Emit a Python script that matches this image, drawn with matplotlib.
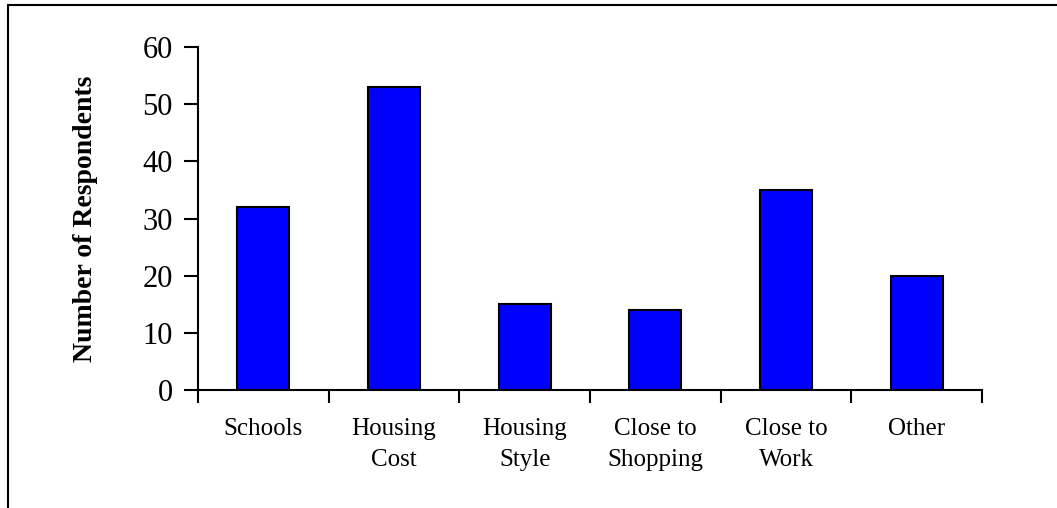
import matplotlib
matplotlib.use("Agg")
import matplotlib.pyplot as plt
from matplotlib.patches import Rectangle
import numpy as np

plt.rcParams['font.family'] = ['Liberation Serif', 'DejaVu Serif']

categories = ["Schools", "Housing\nCost", "Housing\nStyle", "Close to\nShopping", "Close to\nWork", "Other"]
respondents = [32, 53, 15, 14, 35, 20]
y_ticks = [0, 10, 20, 30, 40, 50, 60]

fig = plt.figure(figsize=(10.57, 5.08), dpi=100)

# outer frame of the chart area (runs off the right and bottom edges)
fig.patches.append(Rectangle((8 / 1057, -0.1), 1.2, 1 - 5 / 508 + 0.1,
                             transform=fig.transFigure, fill=False,
                             edgecolor="black", linewidth=1.5))

ax = fig.add_axes([198 / 1057, 1 - 390 / 508, (982 - 198) / 1057, (390 - 47) / 508])

x = np.arange(len(categories))
ax.bar(x, respondents, width=0.4, color="#0000ff", edgecolor="black", linewidth=1.5)

ax.set_xlim(-0.5, len(categories) - 0.5)
ax.set_ylim(0, 60)
ax.set_yticks(y_ticks)
ax.tick_params(axis="y", direction="out", length=10, width=1.5, labelsize=22, pad=8)

ax.set_xticks(x)
ax.set_xticklabels(categories, fontsize=18, linespacing=1.55, va="top")
ax.tick_params(axis="x", which="major", length=0, pad=20)
ax.set_xticks(np.arange(len(categories) + 1) - 0.5, minor=True)
ax.tick_params(axis="x", which="minor", direction="out", length=9, width=1.5)

for side in ["top", "right"]:
    ax.spines[side].set_visible(False)
for side in ["left", "bottom"]:
    ax.spines[side].set_linewidth(1.5)

ax.set_ylabel("Number of Respondents", fontsize=20, fontweight="bold", labelpad=32)

fig.savefig("out.png", dpi=100)
